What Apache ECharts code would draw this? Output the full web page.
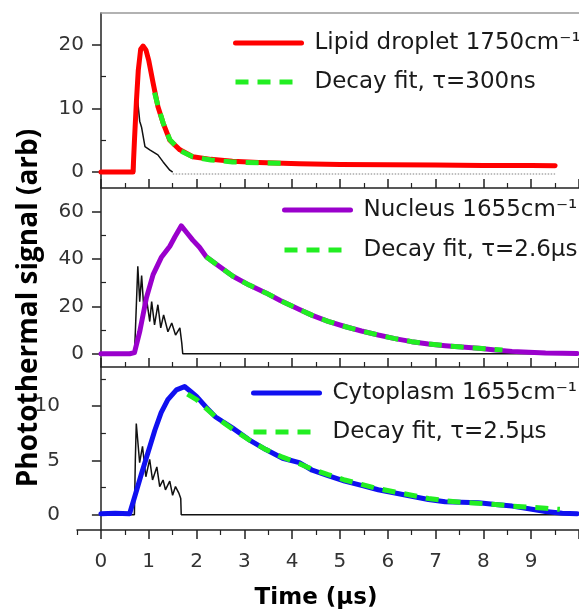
<!DOCTYPE html>
<html>
<head>
<meta charset="utf-8">
<script src="https://cdn.jsdelivr.net/npm/echarts@6/dist/echarts.min.js"></script>
<style>
  html, body { margin: 0; padding: 0; background: #fff; }
  #main { width: 579px; height: 610px; }
</style>
</head>
<body>
<div id="main"></div>
<script>
// 数据：从图上读出来的时间(µs)和信号值
var lipidT = [0, 0.3, 0.6, 0.67, 0.7, 0.74, 0.78, 0.83, 0.88, 0.94, 1.0, 1.09, 1.19, 1.3, 1.44, 1.65, 1.92, 2.3, 2.75, 3.3, 4.15, 5, 6, 7, 8, 9, 9.5];
var lipidV = [0, 0, 0, 0, 5, 11, 16, 19.3, 19.8, 19.2, 17.5, 14, 10.3, 7.7, 5, 3.5, 2.4, 2.0, 1.7, 1.5, 1.3, 1.2, 1.15, 1.1, 1.05, 1.05, 1.0];
var lipidFitT = [1.12, 1.2, 1.3, 1.44, 1.65, 1.92, 2.3, 2.75, 3.3, 3.9];
var lipidFitV = [12.5, 10.2, 7.7, 5.1, 3.4, 2.4, 1.9, 1.6, 1.45, 1.35];
var pulse0T = [0, 0.7, 0.72, 0.74, 0.77, 0.81, 0.85, 0.92, 1.02, 1.19, 1.3, 1.44, 1.5];
var pulse0V = [0, 0, 8, 13.7, 11, 8, 7, 4, 3.5, 2.7, 1.6, 0.3, 0];
var base0T = [1.5, 9.5];
var base0V = [-0.3, -0.3];

var nucT = [0, 0.3, 0.6, 0.7, 0.81, 0.95, 1.09, 1.26, 1.44, 1.55, 1.68, 1.8, 1.92, 2.06, 2.2, 2.5, 2.76, 3.1, 3.45, 3.75, 4.14, 4.42, 4.75, 5.1, 5.45, 5.8, 6.15, 6.5, 6.85, 7.2, 7.55, 7.9, 8.25, 8.6, 8.95, 9.3, 9.65, 9.96];
var nucV = [0, 0, 0, 0.5, 9.3, 23.6, 33.4, 40.6, 45.4, 49.5, 54, 51, 48, 45, 41, 36.5, 32.7, 29, 25.7, 22.5, 18.8, 16.2, 13.7, 11.5, 9.6, 7.9, 6.4, 5.1, 4.1, 3.4, 2.8, 2.3, 1.6, 1.0, 0.6, 0.3, 0.2, 0.1];
var nucFitT = [2.2, 2.5, 2.76, 3.1, 3.45, 3.75, 4.14, 4.42, 4.75, 5.1, 5.45, 5.8, 6.15, 6.5, 6.85, 7.2, 7.55, 7.9, 8.4];
var nucFitV = [41, 36.5, 32.7, 29, 25.7, 22.5, 18.8, 16.2, 13.7, 11.5, 9.6, 7.9, 6.4, 5.1, 4.1, 3.4, 2.8, 2.3, 1.6];
var pulse1T = [0, 0.7, 0.72, 0.77, 0.81, 0.85, 0.9, 0.95, 1.02, 1.06, 1.12, 1.19, 1.25, 1.31, 1.4, 1.48, 1.56, 1.65, 1.69, 1.71, 9.96];
var pulse1V = [0, 0, 10, 36.9, 22, 33, 17.8, 23.6, 13.6, 22, 12.2, 20.7, 10.9, 16.4, 9.3, 13, 7.9, 10.9, 4.5, 0, 0];

var cytoT = [0, 0.3, 0.6, 0.71, 0.85, 0.99, 1.13, 1.26, 1.4, 1.58, 1.75, 1.89, 2.0, 2.2, 2.4, 2.75, 3.1, 3.45, 3.8, 4.15, 4.42, 4.75, 5.1, 5.45, 5.8, 6.15, 6.5, 6.85, 7.2, 7.55, 7.9, 8.25, 8.6, 8.95, 9.3, 9.65, 9.96];
var cytoV = [0.1, 0.15, 0.1, 1.7, 3.8, 5.8, 7.8, 9.4, 10.6, 11.5, 11.8, 11.3, 10.9, 9.9, 9.0, 8.0, 6.9, 6.0, 5.2, 4.8, 4.1, 3.6, 3.1, 2.7, 2.3, 2.0, 1.7, 1.4, 1.2, 1.15, 1.1, 0.95, 0.8, 0.55, 0.3, 0.15, 0.1];
var cytoFitT = [1.81, 2.0, 2.2, 2.4, 2.75, 3.1, 3.45, 3.8, 4.15, 4.42, 4.75, 5.1, 5.45, 5.8, 6.15, 6.5, 6.85, 7.2, 7.55, 7.9, 8.25, 8.6, 8.95, 9.3, 9.6];
var cytoFitV = [11.1, 10.6, 9.8, 9.0, 7.9, 6.9, 6.0, 5.3, 4.7, 4.2, 3.7, 3.2, 2.8, 2.4, 2.1, 1.8, 1.5, 1.3, 1.15, 1.05, 0.95, 0.8, 0.7, 0.6, 0.5];
var pulse2T = [0, 0.7, 0.72, 0.74, 0.81, 0.87, 0.94, 1.02, 1.08, 1.17, 1.23, 1.3, 1.35, 1.44, 1.5, 1.56, 1.63, 1.67, 1.68, 9.96];
var pulse2V = [0, 0, 5, 8.4, 4.8, 6.3, 3.5, 5.1, 3.2, 4.4, 2.6, 3.2, 2.3, 3.1, 1.8, 2.6, 2.0, 1.5, 0, 0];

// 刻度
var xMajor = [0, 1, 2, 3, 4, 5, 6, 7, 8, 9, 10];
var xLabels = [0, 1, 2, 3, 4, 5, 6, 7, 8, 9];
var xMinor = [-0.5, 0.5, 1.5, 2.5, 3.5, 4.5, 5.5, 6.5, 7.5, 8.5, 9.5];
var y0Major = [0, 10, 20], y0Minor = [5, 15];
var y1Major = [0, 20, 40, 60], y1Minor = [10, 30, 50];
var y2Major = [0, 5, 10], y2Minor = [2.5, 7.5, 12.5];

var names = {
  lipid: "Lipid droplet 1750cm\u207B\u00B9",
  lipidFit: "Decay fit, \u03C4=300ns",
  nuc: "Nucleus 1655cm\u207B\u00B9",
  nucFit: "Decay fit, \u03C4=2.6\u00B5s",
  cyto: "Cytoplasm 1655cm\u207B\u00B9",
  cytoFit: "Decay fit, \u03C4=2.5\u00B5s",
};

var FONT = "DejaVu Sans";
var AXC = "#222";

function zip(t, v) {
  var out = [];
  for (var i = 0; i < t.length; i++) out.push([t[i], v[i]]);
  return out;
}

function xPair(grid, min, max, inside, labels) {
  var main = {
    type: "value", gridIndex: grid, min: min, max: max, position: "bottom",
    axisLine: { onZero: false, lineStyle: { color: AXC, width: 1.5 } },
    axisTick: { customValues: xMajor, inside: inside, length: 9, lineStyle: { color: AXC, width: 1.5 } },
    axisLabel: { show: labels, customValues: xLabels, margin: 22, fontFamily: FONT, fontSize: 20, color: "#333" },
    splitLine: { show: false },
  };
  var minor = {
    type: "value", gridIndex: grid, min: min, max: max, position: "bottom",
    axisLine: { show: false, onZero: false },
    axisTick: { customValues: xMinor, inside: inside, length: 5, lineStyle: { color: AXC, width: 1.2 } },
    axisLabel: { show: false },
    splitLine: { show: false },
  };
  return [main, minor];
}

function yPair(grid, min, max, major, minor) {
  return [
    {
      type: "value", gridIndex: grid, min: min, max: max,
      axisLine: { show: true, onZero: true, lineStyle: { color: AXC, width: 1.5 } },
      axisTick: { customValues: major, length: 9, lineStyle: { color: AXC, width: 1.5 } },
      axisLabel: { customValues: major, margin: 17, fontFamily: FONT, fontSize: 20, color: "#333" },
      splitLine: { show: false },
    },
    {
      type: "value", gridIndex: grid, min: min, max: max,
      axisLine: { show: false, onZero: true },
      axisTick: { customValues: minor, length: 5, lineStyle: { color: AXC, width: 1.2 } },
      axisLabel: { show: false },
      splitLine: { show: false },
    },
  ];
}

function colored(name, xi, yi, t, v, color) {
  return {
    name: name, type: "line", xAxisIndex: xi, yAxisIndex: yi, data: zip(t, v),
    symbol: "none", color: color, z: 3,
    lineStyle: { color: color, width: 5, cap: "round", join: "round" },
  };
}
function fit(name, xi, yi, t, v) {
  return {
    name: name, type: "line", xAxisIndex: xi, yAxisIndex: yi, data: zip(t, v),
    symbol: "none", color: "#22ee22", z: 4,
    lineStyle: { color: "#22ee22", width: 5, type: [13, 9] },
  };
}
function pulse(xi, yi, t, v, color, type) {
  return {
    type: "line", xAxisIndex: xi, yAxisIndex: yi, data: zip(t, v),
    symbol: "none", z: 2, silent: true,
    lineStyle: { color: color, width: 1.5, type: type || "solid" },
  };
}

function legendAt(left, top, gap, data) {
  return {
    data: data, orient: "vertical", left: left, top: top, padding: 0,
    itemWidth: 66, itemHeight: 14, itemGap: gap, selectedMode: false,
    itemStyle: { opacity: 0 },
    lineStyle: { width: 5 },
    textStyle: { fontFamily: FONT, fontSize: 23, color: "#1a1a1a", lineHeight: 24, padding: [0, 0, 0, 8] },
  };
}

var myChart = echarts.init(document.getElementById("main"));

var xs0 = xPair(0, 0, 10, true, false);
var xs1 = xPair(1, 0, 10, true, false);
var xs2 = xPair(2, -0.5, 10, false, true);
var topFrame = {
  type: "value", gridIndex: 0, min: 0, max: 10, position: "top",
  axisLine: { onZero: false, lineStyle: { color: "#999", width: 1.5 } },
  axisTick: { show: false }, axisLabel: { show: false }, splitLine: { show: false },
};

var option = {
  animation: false,
  backgroundColor: "#fff",
  grid: [
    { left: 101, top: 13, width: 480, height: 175 },
    { left: 101, top: 188, width: 480, height: 179 },
    { left: 77, top: 367, width: 504, height: 163 },
  ],
  // x轴: 0,1 第一块; 2 顶边; 3,4 第二块; 5,6 第三块
  xAxis: [xs0[0], xs0[1], topFrame, xs1[0], xs1[1], xs2[0], xs2[1]],
  yAxis: [].concat(
    yPair(0, -2.5, 25, y0Major, y0Minor),
    yPair(1, -5.6, 70, y1Major, y1Minor),
    yPair(2, -1.4, 13.6, y2Major, y2Minor)
  ),
  legend: [
    legendAt(233, 31, 15, [names.lipid, names.lipidFit]),
    legendAt(282, 198, 16, [names.nuc, names.nucFit]),
    legendAt(251, 381, 15, [names.cyto, names.cytoFit]),
  ],
  graphic: [
    {
      type: "text", x: 29, y: 308, rotation: Math.PI / 2,
      style: { text: "Photothermal signal (arb)", font: 'bold 28px "Open Sans"', fill: "#000", align: "center", verticalAlign: "middle", textAlign: "center", textVerticalAlign: "middle" },
    },
    {
      type: "text", x: 316, y: 598,
      style: { text: "Time (\u00B5s)", font: 'bold 23px "DejaVu Sans"', fill: "#000", align: "center", verticalAlign: "middle", textAlign: "center", textVerticalAlign: "middle" },
    },
  ],
  series: [
    pulse(0, 0, pulse0T, pulse0V, "#111"),
    pulse(0, 0, base0T, base0V, "#aaa", "dotted"),
    colored(names.lipid, 0, 0, lipidT, lipidV, "#ff0000"),
    fit(names.lipidFit, 0, 0, lipidFitT, lipidFitV),

    pulse(3, 2, pulse1T, pulse1V, "#111"),
    colored(names.nuc, 3, 2, nucT, nucV, "#9a00cc"),
    fit(names.nucFit, 3, 2, nucFitT, nucFitV),

    pulse(5, 4, pulse2T, pulse2V, "#111"),
    colored(names.cyto, 5, 4, cytoT, cytoV, "#1010f0"),
    fit(names.cytoFit, 5, 4, cytoFitT, cytoFitV),
  ],
};

myChart.setOption(option);
window.addEventListener("resize", myChart.resize);
</script>
</body>
</html>
